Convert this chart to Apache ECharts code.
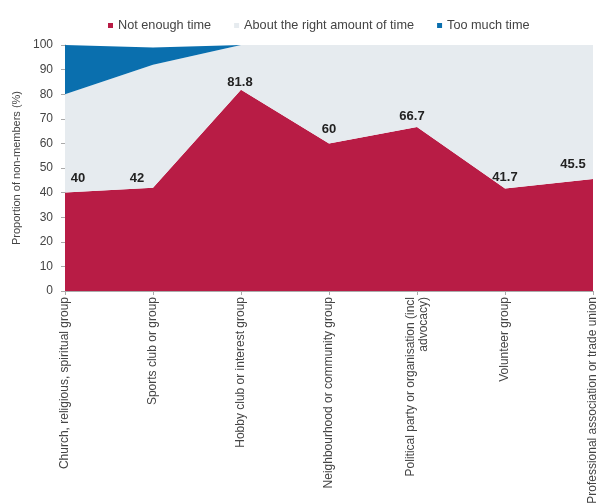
<!DOCTYPE html>
<html>
<head>
<meta charset="utf-8">
<script src="https://cdn.jsdelivr.net/npm/echarts@6/dist/echarts.min.js"></script>
<style>
  html, body { margin: 0; padding: 0; background: #ffffff; }
  #chart { width: 611px; height: 504px; }
</style>
</head>
<body>
<div id="chart"></div>
<script>
// Groups asked about, and the share of non-members giving each answer (%)
const categories = [
  'Church, religious, spiritual group',
  'Sports club or group',
  'Hobby club or interest group',
  'Neighbourhood or community group',
  'Political party or organisation (incl\nadvocacy)',
  'Volunteer group',
  'Professional association or trade union'
];
const notEnoughTime = [40, 42, 81.8, 60, 66.7, 41.7, 45.5];
const aboutRightTime = [40, 50, 18.2, 40, 33.3, 58.3, 54.5];
const tooMuchTime = [20, 7, 0, 0, 0, 0, 0];
const yTicks = { min: 0, max: 100, step: 10 };

// Small nudges [dx, dy] for the value labels (keeps the end ones inside the plot)
const labelShift = [[13, -2], [-16, 3], [-1, 5], [0, -1], [-5, 2], [0, 2], [-20, -2]];

const chart = echarts.init(document.getElementById('chart'));
const FONT = 'Liberation Sans, Arial, sans-serif';
const RED = '#b81c45', GREY = '#e6ebef', BLUE = '#0a6fae';

chart.setOption({
  animation: false,
  textStyle: { fontFamily: FONT },
  legend: {
    top: 14,
    left: 103,
    icon: 'rect',
    itemWidth: 5,
    itemHeight: 5,
    itemGap: 23,
    textStyle: { fontSize: 12.7, color: '#444', fontFamily: FONT },
    data: ['Not enough time', 'About the right amount of time', 'Too much time']
  },
  grid: { left: 65, right: 18, top: 45, bottom: 213, outerBoundsMode: 'none', containLabel: false },
  xAxis: {
    type: 'category',
    data: categories,
    boundaryGap: false,
    axisLine: { lineStyle: { color: '#aaaaaa' } },
    axisTick: { show: true, alignWithLabel: true, length: 4, lineStyle: { color: '#aaaaaa' } },
    axisLabel: {
      rotate: 90,
      interval: 0,
      fontSize: 12,
      color: '#444',
      fontFamily: FONT,
      margin: 6,
      lineHeight: 13
    }
  },
  yAxis: {
    type: 'value',
    min: yTicks.min,
    max: yTicks.max,
    interval: yTicks.step,
    name: 'Proportion of non-members (%)',
    nameLocation: 'middle',
    nameGap: 33,
    nameTextStyle: { fontSize: 11, color: '#444', fontFamily: FONT },
    axisLine: { show: true, lineStyle: { color: '#aaaaaa' } },
    axisTick: { show: true, length: 4, lineStyle: { color: '#aaaaaa' } },
    axisLabel: { fontSize: 12, color: '#444', fontFamily: FONT, margin: 12 },
    splitLine: { show: false }
  },
  series: [
    {
      name: 'Not enough time',
      type: 'line',
      stack: 'total',
      color: RED,
      symbol: 'circle',
      symbolSize: 0.01,
      showSymbol: true,
      lineStyle: { width: 0 },
      itemStyle: { color: RED },
      areaStyle: { color: RED, opacity: 1 },
      label: {
        show: true,
        position: 'top',
        distance: 6,
        fontSize: 13,
        fontWeight: 'bold',
        color: '#222',
        fontFamily: FONT,
        formatter: '{c}'
      },
      labelLayout: function (params) {
        const s = labelShift[params.dataIndex] || [0, 0];
        return { dx: s[0], dy: s[1], hideOverlap: false };
      },
      data: notEnoughTime
    },
    {
      name: 'About the right amount of time',
      type: 'line',
      stack: 'total',
      color: GREY,
      symbol: 'none',
      lineStyle: { width: 0 },
      itemStyle: { color: GREY },
      areaStyle: { color: GREY, opacity: 1 },
      data: aboutRightTime
    },
    {
      name: 'Too much time',
      type: 'line',
      stack: 'total',
      color: BLUE,
      symbol: 'none',
      lineStyle: { width: 0 },
      itemStyle: { color: BLUE },
      areaStyle: { color: BLUE, opacity: 1 },
      data: tooMuchTime
    }
  ]
});
</script>
</body>
</html>
